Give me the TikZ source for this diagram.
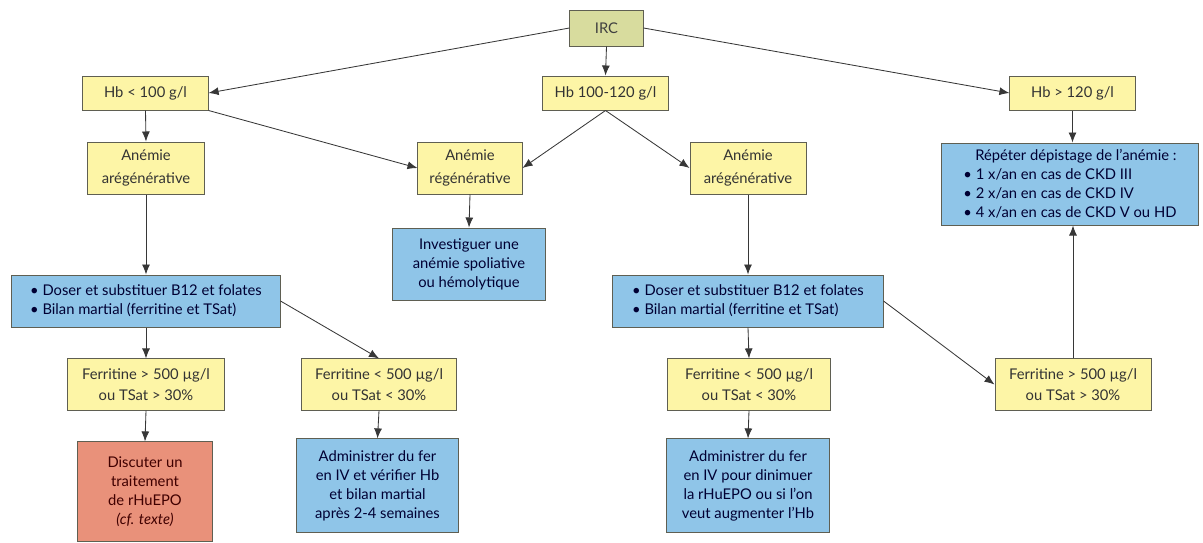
\documentclass[tikz,border=0pt]{standalone}
\usepackage{fontspec}
\setmainfont{Lato}
\usetikzlibrary{arrows.meta, positioning}
\definecolor{ircVert}{RGB}{216, 220, 158}
\definecolor{anemJaune}{RGB}{253, 245, 166}
\definecolor{anemBleu}{RGB}{143, 197, 232}
\definecolor{anemSaumon}{RGB}{233, 145, 122}
\definecolor{anemBord}{RGB}{95, 95, 82}
\definecolor{anemFleche}{RGB}{55, 55, 55}

\begin{document}
\begin{tikzpicture}[x=0.025cm, y=-0.025cm,
        boite/.style={rectangle, draw=anemBord, line width=0.7pt, align=center, inner sep=2pt, font=\fontsize{10.5}{13.5}\selectfont},
        jaune/.style={boite, fill=anemJaune, text=black!80},
        bleu/.style={boite, fill=anemBleu, text=black!80!blue},
        fl/.style={-{Latex[length=2.5mm, width=2mm]}, draw=anemFleche, line width=0.6pt}]

        \useasboundingbox (0,0) rectangle (1203,542);

        \node[boite, fill=ircVert, text=black!75, minimum width=1.83cm, minimum height=0.9cm] (irc) at (606.5,28) {IRC};

        \node[jaune, minimum width=3.13cm, minimum height=0.85cm] (hbBas) at (145.5,93) {Hb < 100 g/l};
        \node[jaune, minimum width=3.13cm, minimum height=0.85cm] (hbMoy) at (605.5,93) {Hb 100-120 g/l};
        \node[jaune, minimum width=3.13cm, minimum height=0.85cm] (hbHaut) at (1072.5,93) {Hb > 120 g/l};

        \node[jaune, minimum width=2.9cm, minimum height=1.3cm] (aregG) at (146,168) {Anémie\\[3pt]arégénérative};
        \node[jaune, minimum width=2.6cm, minimum height=1.3cm] (regen) at (470,168) {Anémie\\[3pt]régénérative};
        \node[jaune, minimum width=2.9cm, minimum height=1.3cm] (aregD) at (748,168) {Anémie\\[3pt]arégénérative};
        \node[bleu, align=left, minimum width=6.4cm, minimum height=2.05cm] (repeter) at (1070,184)
            {\hspace*{0.8em}Répéter dépistage de l'anémie :\\• 1 x/an en cas de CKD III\\• 2 x/an en cas de CKD IV\\• 4 x/an en cas de CKD V ou HD};

        \node[bleu, minimum width=3.8cm, minimum height=1.8cm] (invest) at (469,264) {Investiguer une\\anémie spoliative\\ou hémolytique};
        \node[bleu, align=left, minimum width=6.7cm, minimum height=1.3cm] (doserG) at (146,301)
            {• Doser et substituer B12 et folates\\• Bilan martial (ferritine et TSat)};
        \node[bleu, align=left, minimum width=6.75cm, minimum height=1.3cm] (doserD) at (748,301)
            {• Doser et substituer B12 et folates\\• Bilan martial (ferritine et TSat)};

        \node[jaune, minimum width=3.9cm, minimum height=1.28cm] (ferHautG) at (146,384.5) {Ferritine > 500 µg/l\\[1pt]ou TSat > 30\%};
        \node[jaune, minimum width=3.85cm, minimum height=1.28cm] (ferBasG) at (379,384.5) {Ferritine < 500 µg/l\\[1pt]ou TSat < 30\%};
        \node[jaune, minimum width=4.05cm, minimum height=1.28cm] (ferBasD) at (749,384.5) {Ferritine < 500 µg/l\\[1pt]ou TSat < 30\%};
        \node[jaune, minimum width=3.9cm, minimum height=1.28cm] (ferHautD) at (1073,384.5) {Ferritine > 500 µg/l\\[1pt]ou TSat > 30\%};

        \node[boite, fill=anemSaumon, text=black!75!red, minimum width=3.35cm, minimum height=2.48cm] (discuter) at (145,491.5)
            {Discuter un\\traitement\\de rHuEPO\\\textit{(cf. texte)}};
        \node[bleu, minimum width=4.03cm, minimum height=2.33cm] (adminG) at (377.5,485.5)
            {Administrer du fer\\en IV et vérifier Hb\\et bilan martial\\après 2-4 semaines};
        \node[bleu, minimum width=4.05cm, minimum height=2.33cm] (adminD) at (748,485.5)
            {Administrer du fer\\en IV pour dinimuer\\la rHuEPO ou si l'on\\veut augmenter l'Hb};

        \draw[fl] (irc.west) -- (hbBas.east);
        \draw[fl] (irc.south) -- (hbMoy.north);
        \draw[fl] (irc.east) -- (hbHaut.west);

        \draw[fl] (hbBas.south) -- (aregG.north);
        \draw[fl] (hbBas.south east) -- (regen.west);
        \draw[fl] (hbMoy.south) -- (regen.east);
        \draw[fl] (hbMoy.south) -- (aregD.west);
        \draw[fl] (hbHaut.south) -- (hbHaut.south |- repeter.north);

        \draw[fl] (aregG.south) -- (doserG.north);
        \draw[fl] (regen.south) -- (invest.north);
        \draw[fl] (aregD.south) -- (doserD.north);

        \draw[fl] (doserG.south) -- (ferHautG.north);
        \draw[fl] (doserG.east) -- (ferBasG.north);
        \draw[fl] (doserD.south) -- (ferBasD.north);
        \draw[fl] (doserD.east) -- (ferHautD.west);
        \draw[fl] (ferHautD.north) -- (ferHautD.north |- repeter.south);

        \draw[fl] (ferHautG.south) -- (discuter.north);
        \draw[fl] (ferBasG.south) -- (adminG.north);
        \draw[fl] (ferBasD.south) -- (adminD.north);
    \end{tikzpicture}
\end{document}
